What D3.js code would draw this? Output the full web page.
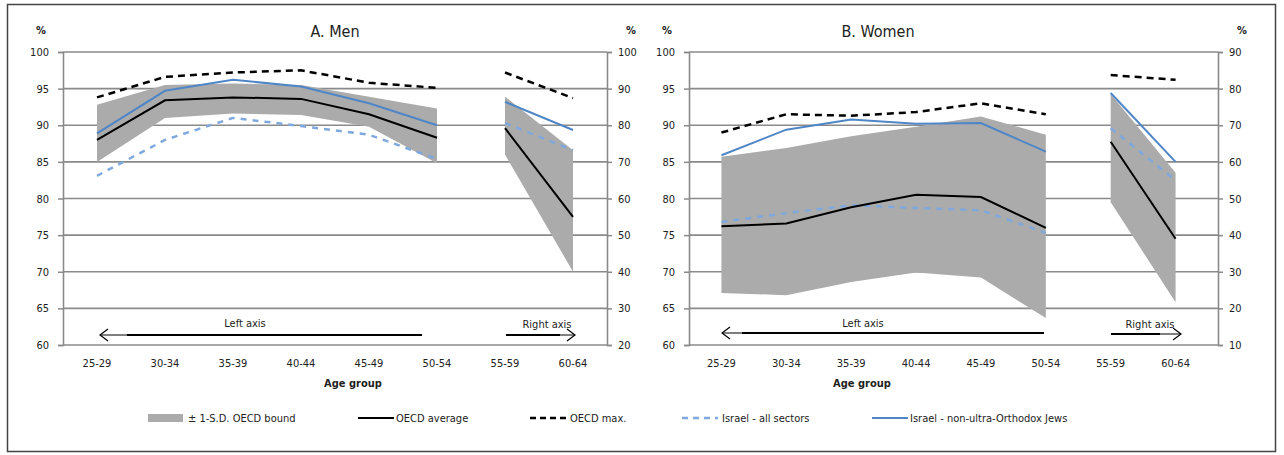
<!DOCTYPE html>
<html>
<head>
<meta charset="utf-8">
<script src="https://cdn.jsdelivr.net/npm/d3@7"></script>
<style>
  body { margin: 0; background: #fff; }
  text { font-family: "Liberation Sans Narrow", "DejaVu Sans Condensed", "Liberation Sans", sans-serif; fill: #222; }
</style>
</head>
<body>
<div id="chart"></div>
<script>
// age groups; first six read on left axis, last two on right axis
const ageGroups = ["25-29", "30-34", "35-39", "40-44", "45-49", "50-54", "55-59", "60-64"];
const leftTicks = [60, 65, 70, 75, 80, 85, 90, 95, 100];
const menRightTicks = [20, 30, 40, 50, 60, 70, 80, 90, 100];
const womenRightTicks = [10, 20, 30, 40, 50, 60, 70, 80, 90];

const menBandLo  = [85.0, 91.0, 91.6, 91.4, 89.8, 84.8, 72.0, 40.0];
const menBandHi  = [92.8, 95.5, 95.7, 95.5, 93.9, 92.3, 87.8, 73.2];
const menAvg     = [88.0, 93.4, 93.8, 93.6, 91.5, 88.3, 79.2, 55.0];
const menMax     = [93.8, 96.6, 97.2, 97.5, 95.8, 95.1, 94.4, 87.4];
const menIsrAll  = [83.1, 88.0, 91.0, 89.9, 88.7, 85.4, 80.6, 73.2];
const menIsrNon  = [88.9, 94.7, 96.2, 95.3, 93.0, 90.0, 86.4, 78.7];

const womenBandLo = [67.1, 66.8, 68.6, 69.9, 69.2, 63.7, 49.0, 21.7];
const womenBandHi = [85.7, 86.9, 88.5, 89.8, 91.2, 88.7, 78.5, 57.0];
const womenAvg    = [76.2, 76.6, 78.8, 80.5, 80.2, 76.0, 65.5, 39.0];
const womenMax    = [89.0, 91.5, 91.3, 91.8, 93.0, 91.5, 83.7, 82.4];
const womenIsrAll = [76.8, 78.0, 79.1, 78.7, 78.4, 75.3, 69.2, 55.0];
const womenIsrNon = [85.9, 89.4, 90.8, 90.2, 90.3, 86.4, 78.8, 60.0];

const legendLabels = ["± 1-S.D. OECD bound", "OECD average", "OECD max.", "Israel - all sectors", "Israel - non-ultra-Orthodox Jews"];

function draw() {
  const width = 1284, height = 455;
  const top = 52, bottom = 345;
  const grey = "#ababab", blue = "#4f86c6", lightBlue = "#7fa9dc";

  const svg = d3.select("#chart").append("svg")
      .attr("width", width).attr("height", height);

  // outer frame
  svg.append("rect")
      .attr("x", 7.5).attr("y", 4.5).attr("width", 1268).attr("height", 447)
      .attr("fill", "none").attr("stroke", "#444").attr("stroke-width", 1.5);

  const panels = [
    {title: "A. Men", x0: 63, x1: 607, xr: 607, titleX: 335, ageX: 353, rTicks: menRightTicks, rDom: [20, 100],
     lo: menBandLo, hi: menBandHi, avg: menAvg, max: menMax, all: menIsrAll, non: menIsrNon,
     leftArrow: [100, 127, 422, 335], rightArrow: [506, 560, 575, 335], leftTxt: 245, rightTxt: 547},
    {title: "B. Women", x0: 689, x1: 1208, xr: 1218, titleX: 878, ageX: 862, rTicks: womenRightTicks, rDom: [10, 90],
     lo: womenBandLo, hi: womenBandHi, avg: womenAvg, max: womenMax, all: womenIsrAll, non: womenIsrNon,
     leftArrow: [722, 742, 1044, 333], rightArrow: [1111, 1160, 1181, 334], leftTxt: 863, rightTxt: 1150}
  ];

  panels.forEach(p => {
    const g = svg.append("g");
    const x = d3.scalePoint().domain(ageGroups).range([p.x0, p.x1]).padding(0.5);
    const yL = d3.scaleLinear().domain([60, 100]).range([bottom, top]);
    const yR = d3.scaleLinear().domain(p.rDom).range([bottom, top]);

    // gridlines
    g.append("g").selectAll("line").data(leftTicks.slice(1)).join("line")
        .attr("x1", p.x0).attr("x2", p.xr)
        .attr("y1", d => yL(d)).attr("y2", d => yL(d))
        .attr("stroke", "#8a8a8a").attr("stroke-width", 1.6);

    // axes
    const axL = g.append("g").attr("transform", `translate(${p.x0},0)`)
        .call(d3.axisLeft(yL).tickValues(leftTicks).tickSize(5).tickPadding(9));
    const axR = g.append("g").attr("transform", `translate(${p.xr},0)`)
        .call(d3.axisRight(yR).tickValues(p.rTicks).tickSize(5).tickPadding(6));
    [axL, axR].forEach(a => {
      a.select(".domain").attr("stroke", "#8a8a8a").attr("stroke-width", 1.6);
      a.selectAll(".tick line").attr("stroke", "#8a8a8a").attr("stroke-width", 1.5);
      a.selectAll("text").attr("font-size", 11).attr("fill", "#333");
    });
    g.append("line").attr("x1", p.x0).attr("x2", p.xr).attr("y1", bottom).attr("y2", bottom)
        .attr("stroke", "#8a8a8a").attr("stroke-width", 1.6);

    // category labels
    g.append("g").selectAll("text").data(ageGroups).join("text")
        .attr("x", d => x(d)).attr("y", 367).attr("text-anchor", "middle")
        .attr("font-size", 11).attr("fill", "#333").text(d => d);
    g.append("text").attr("x", p.ageX).attr("y", 387).attr("text-anchor", "middle")
        .attr("font-size", 11).attr("font-weight", "bold").text("Age group");

    g.append("text").attr("x", p.titleX).attr("y", 37).attr("text-anchor", "middle")
        .attr("font-size", 16).text(p.title);
    g.append("text").attr("x", p.x0 - 22).attr("y", 34).attr("text-anchor", "middle")
        .attr("font-size", 11).attr("font-weight", "bold").attr("fill", "#444").text("%");
    g.append("text").attr("x", p.xr + 24).attr("y", 34).attr("text-anchor", "middle")
        .attr("font-size", 11).attr("font-weight", "bold").attr("fill", "#444").text("%");

    // two segments: left-axis groups and right-axis groups
    const segs = [{idx: d3.range(0, 6), y: yL}, {idx: d3.range(6, 8), y: yR}];
    segs.forEach(s => {
      const area = d3.area().x(i => x(ageGroups[i])).y0(i => s.y(p.lo[i])).y1(i => s.y(p.hi[i]));
      g.append("path").datum(s.idx).attr("d", area).attr("fill", grey);
      const mk = (arr) => d3.line().x(i => x(ageGroups[i])).y(i => s.y(arr[i]));
      g.append("path").datum(s.idx).attr("d", mk(p.all)).attr("fill", "none")
          .attr("stroke", lightBlue).attr("stroke-width", 2.5).attr("stroke-dasharray", "6,6");
      g.append("path").datum(s.idx).attr("d", mk(p.non)).attr("fill", "none")
          .attr("stroke", blue).attr("stroke-width", 2);
      g.append("path").datum(s.idx).attr("d", mk(p.avg)).attr("fill", "none")
          .attr("stroke", "#000").attr("stroke-width", 2);
      g.append("path").datum(s.idx).attr("d", mk(p.max)).attr("fill", "none")
          .attr("stroke", "#000").attr("stroke-width", 2.5).attr("stroke-dasharray", "7,5");
    });

    // axis direction arrows
    const la = p.leftArrow, ra = p.rightArrow;
    g.append("line").attr("x1", la[0]).attr("x2", la[2]).attr("y1", la[3]).attr("y2", la[3])
        .attr("stroke", "#000").attr("stroke-width", 1);
    g.append("line").attr("x1", la[1]).attr("x2", la[2]).attr("y1", la[3]).attr("y2", la[3])
        .attr("stroke", "#000").attr("stroke-width", 2.2);
    g.append("path").attr("d", `M${la[0] + 8},${la[3] - 6}L${la[0]},${la[3]}L${la[0] + 8},${la[3] + 6}`)
        .attr("fill", "none").attr("stroke", "#000").attr("stroke-width", 1.2);
    g.append("line").attr("x1", ra[0]).attr("x2", ra[2]).attr("y1", ra[3]).attr("y2", ra[3])
        .attr("stroke", "#000").attr("stroke-width", 1);
    g.append("line").attr("x1", ra[0]).attr("x2", ra[1]).attr("y1", ra[3]).attr("y2", ra[3])
        .attr("stroke", "#000").attr("stroke-width", 2.2);
    g.append("path").attr("d", `M${ra[2] - 8},${ra[3] - 6}L${ra[2]},${ra[3]}L${ra[2] - 8},${ra[3] + 6}`)
        .attr("fill", "none").attr("stroke", "#000").attr("stroke-width", 1.2);
    g.append("text").attr("x", p.leftTxt).attr("y", 327).attr("text-anchor", "middle")
        .attr("font-size", 11).text("Left axis");
    g.append("text").attr("x", p.rightTxt).attr("y", 328).attr("text-anchor", "middle")
        .attr("font-size", 11).text("Right axis");
  });

  // legend
  const lx = [148, 358, 530, 682, 872];
  const leg = svg.append("g").selectAll("g").data(legendLabels).join("g")
      .attr("transform", (d, i) => `translate(${lx[i]},418)`);
  leg.each(function(d, i) {
    const s = d3.select(this);
    if (i === 0) {
      s.append("rect").attr("x", 0).attr("y", -4).attr("width", 35).attr("height", 8).attr("fill", grey);
    } else {
      const st = [null, ["#000", null, 2.2], ["#000", "6,4", 2.5], [lightBlue, "6,5", 2.5], [blue, null, 2.2]][i];
      s.append("line").attr("x1", 0).attr("x2", 36).attr("stroke", st[0])
          .attr("stroke-width", st[2]).attr("stroke-dasharray", st[1]);
    }
    s.append("text").attr("x", i === 0 ? 40 : (i === 1 || i === 4 ? 38 : 40)).attr("y", 4)
        .attr("font-size", 11).attr("fill", "#333").text(d);
  });
}
draw();
</script>
</body>
</html>
